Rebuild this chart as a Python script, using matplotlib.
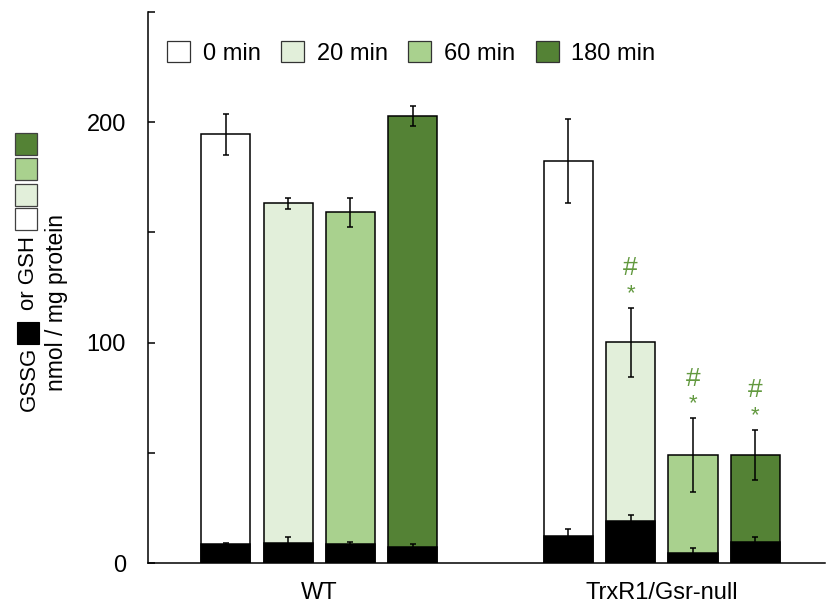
import numpy as np
import matplotlib
matplotlib.use("Agg")
import matplotlib.pyplot as plt
from matplotlib.patches import Rectangle, Patch

plt.rcParams['font.family'] = ['Liberation Sans', 'DejaVu Sans']

groups = ["WT", "TrxR1/Gsr-null"]
times = ["0 min", "20 min", "60 min", "180 min"]
colors = ["#ffffff", "#e2efda", "#a9d18e", "#548235"]

# GSH (total bar height) and SD
gsh_wt = [194.6, 163.3, 159.2, 202.7]
gsh_wt_err = [9.3, 2.5, 6.6, 4.5]
gsh_ko = [182.3, 100.2, 49.0, 49.0]
gsh_ko_err = [19.0, 15.7, 16.6, 11.3]

# GSSG (black bars) and SD
gssg_wt = [8.6, 9.2, 8.6, 7.4]
gssg_wt_err = [0.5, 2.7, 1.1, 1.2]
gssg_ko = [12.2, 19.2, 4.7, 9.7]
gssg_ko_err = [3.2, 2.6, 2.3, 2.3]

# significance marks on the knockout bars
sig_ko = ["", "#*", "#*", "#*"]
sig_color = "#62993f"

W, H = 827, 603
fig = plt.figure(figsize=(W / 100, H / 100), dpi=100)
ax = fig.add_axes([148 / W, (H - 563) / H, (825 - 148) / W, (563 - 12) / H])

x_wt = np.arange(4)
x_ko = np.arange(4) + 5.5
bw = 0.79
ekw = dict(ecolor="black", elinewidth=1.1, capsize=2.0, capthick=1.1)

for xs, gsh, gerr, gssg, serr in [(x_wt, gsh_wt, gsh_wt_err, gssg_wt, gssg_wt_err),
                                   (x_ko, gsh_ko, gsh_ko_err, gssg_ko, gssg_ko_err)]:
    ax.bar(xs, gsh, bw, color=colors, edgecolor="black", linewidth=1.1,
           yerr=gerr, error_kw=ekw, zorder=2)
    ax.bar(xs, gssg, bw, color="black", edgecolor="black", linewidth=1.1, zorder=3)
    ax.errorbar(xs, gssg, yerr=serr, fmt="none", zorder=4, **ekw)

for xi, v, e, s in zip(x_ko, gsh_ko, gsh_ko_err, sig_ko):
    if s:
        ax.text(xi, v + e + 6.5, "*", ha="center", va="center", fontsize=16,
                color=sig_color)
        ax.text(xi, v + e + 18, "#", ha="center", va="center", fontsize=19,
                color=sig_color)

ax.set_xlim(-1.25, 9.62)
ax.set_ylim(0, 250)
ax.set_yticks([0, 100, 200])
ax.set_yticks([50, 150, 250], minor=True)
ax.tick_params(axis="y", which="both", direction="in", length=5, width=1.1,
               labelsize=17, pad=16)
ax.set_xticks([1.5, 7.0])
ax.set_xticklabels(groups)
ax.tick_params(axis="x", length=0, labelsize=17, pad=14)
for sp in ["top", "right"]:
    ax.spines[sp].set_visible(False)
for sp in ["left", "bottom"]:
    ax.spines[sp].set_linewidth(1.1)

handles = [Patch(facecolor=c, edgecolor="#333333", linewidth=0.9) for c in colors]
fig.legend(handles, times, loc="upper left", bbox_to_anchor=(167 / W, 1 - 41 / H),
           bbox_transform=fig.transFigure, ncol=4, frameon=False, fontsize=17,
           handlelength=0.98, handleheight=0.98, handletextpad=0.53,
           columnspacing=0.87, borderpad=0, borderaxespad=0)

# composite y label
def fx(px):
    return px / W

def fy(py):
    return 1 - py / H

fig.text(fx(29), fy(411), "GSSG", rotation=90, ha="center", va="bottom", fontsize=16)
fig.text(fx(29), fy(310), "or GSH", rotation=90, ha="center", va="bottom", fontsize=16)
fig.text(fx(57), fy(391), "nmol / mg protein", rotation=90, ha="center", va="bottom",
         fontsize=16.5)
fig.add_artist(Rectangle((fx(17), fy(344)), 22 / W, 22 / H, transform=fig.transFigure,
                         facecolor="black", edgecolor="black", linewidth=0.8))
for top, c in zip([208, 184, 158, 133], colors):
    fig.add_artist(Rectangle((fx(15), fy(top + 22)), 22 / W, 22 / H,
                             transform=fig.transFigure, facecolor=c,
                             edgecolor="#404040", linewidth=0.9))

fig.savefig("out.png", dpi=100)
